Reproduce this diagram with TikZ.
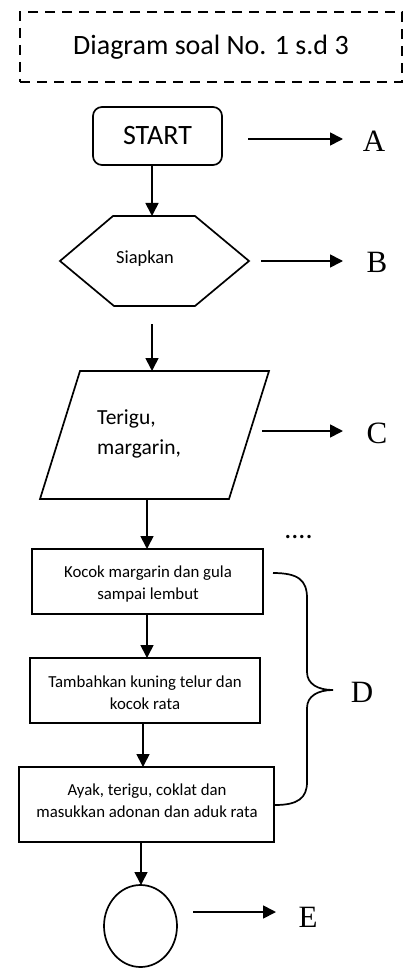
\documentclass[tikz,border=0pt]{standalone}
\usepackage{fontspec}
\setmainfont{Carlito}
\newfontfamily\serifletter{Liberation Serif}
\usetikzlibrary{arrows.meta}
\tikzset{
  x=1pt, y=-1pt,
  shapeline/.style={line width=1.7pt, line join=miter},
  flowarrow/.style={line width=1.7pt, -{Triangle[length=13pt,width=13pt]}},
  letter/.style={font=\serifletter\fontsize{31}{31}\selectfont, anchor=base, inner sep=0pt},
  boxtext/.style={font=\fontsize{16.8}{22}\selectfont, align=center, inner sep=0pt},
  procbox/.style={shapeline, draw, rectangle, inner sep=0pt},
}
\begin{document}
\begin{tikzpicture}
\useasboundingbox (0,0) rectangle (407,968);
% title
\node[draw, line width=2.2pt, dash pattern=on 10pt off 7pt, minimum width=382pt, minimum height=70pt, inner sep=0pt,
      font=\fontsize{28}{28}\selectfont] (title) at (211,47) {Diagram soal No. 1 s.d 3};
% start
\node[procbox, rounded corners=9pt, minimum width=129pt, minimum height=58pt, font=\fontsize{28}{28}\selectfont] (start) at (157.5,136) {START};
% hexagon
\draw[shapeline] (60,261) -- (113,216) -- (195,216) -- (249,261) -- (195,306) -- (114,306) -- cycle;
\node[font=\fontsize{18.4}{18}\selectfont, anchor=base west, inner sep=0pt] (siap) at (116,263) {Siapkan};
% parallelogram
\draw[shapeline] (80,371) -- (269,371) -- (229,499) -- (40,499) -- cycle;
\node[font=\fontsize{21.5}{30}\selectfont, align=left, anchor=base west, inner sep=0pt] (terigu) at (97,454) {Terigu,\\margarin,};
% boxes
\node[procbox, minimum width=231pt, minimum height=65pt] (b1) at (147.5,581.5) {};
\node[boxtext] (t1) at (148,584) {Kocok margarin dan gula\\sampai lembut};
\node[procbox, minimum width=230pt, minimum height=65pt] (b2) at (145,690.5) {};
\node[boxtext] (t2) at (145,693) {Tambahkan kuning telur dan\\kocok rata};
\node[procbox, minimum width=255pt, minimum height=75pt] (b3) at (146.5,804.5) {};
\node[boxtext] (t3) at (147,801) {Ayak, terigu, coklat dan\\masukkan adonan dan aduk rata};
% end ellipse
\draw[shapeline] (140.5,926) ellipse [x radius=36.5pt, y radius=41pt];
\coordinate (endtop) at (141,885);
% arrow coordinates
\coordinate (s1) at (152,165);  \coordinate (h1) at (152,216);
\coordinate (h2) at (152,324);  \coordinate (p1) at (152,371);
\coordinate (p2) at (147,499);  \coordinate (q1) at (147,549);
\coordinate (q2) at (147,614);  \coordinate (q3) at (147,658);
\coordinate (q4) at (143,723);  \coordinate (q5) at (143,767);
\coordinate (q6) at (141,842);
\draw[flowarrow] (s1) -- (h1);
\draw[flowarrow] (h2) -- (p1);
\draw[flowarrow] (p2) -- (q1);
\draw[flowarrow] (q2) -- (q3);
\draw[flowarrow] (q4) -- (q5);
\draw[flowarrow] (q6) -- (endtop);
% side labels
\node[letter] (A) at (374,152) {A};
\node[letter] (B) at (377,272) {B};
\node[letter] (C) at (377,443) {C};
\node[letter] (D) at (362,702) {D};
\node[letter] (E) at (308,927) {E};
\coordinate (a0) at (248,139); \coordinate (a1) at (343,139);
\coordinate (bb0) at (261,261); \coordinate (bb1) at (343,261);
\coordinate (c0) at (262,431); \coordinate (c1) at (343,431);
\coordinate (e0) at (193,912); \coordinate (e1) at (276,912);
\draw[flowarrow] (a0) -- (a1);
\draw[flowarrow] (bb0) -- (bb1);
\draw[flowarrow] (c0) -- (c1);
\draw[flowarrow] (e0) -- (e1);
% dots
\node[font=\fontsize{28}{28}\selectfont, anchor=base, inner sep=0pt] (dots) at (298.5,538) {....};
% brace
\coordinate (br0) at (273,573);
\coordinate (brtip) at (333,690);
\coordinate (br1) at (275,805);
\draw[line width=1.7pt] (br0) .. controls (298,573) and (307,580) .. (307,598) -- (307,672)
   .. controls (307,684) and (318,690) .. (brtip)
   .. controls (318,690) and (307,696) .. (307,708) -- (307,782)
   .. controls (307,798) and (298,805) .. (br1);
\end{tikzpicture}
\end{document}
